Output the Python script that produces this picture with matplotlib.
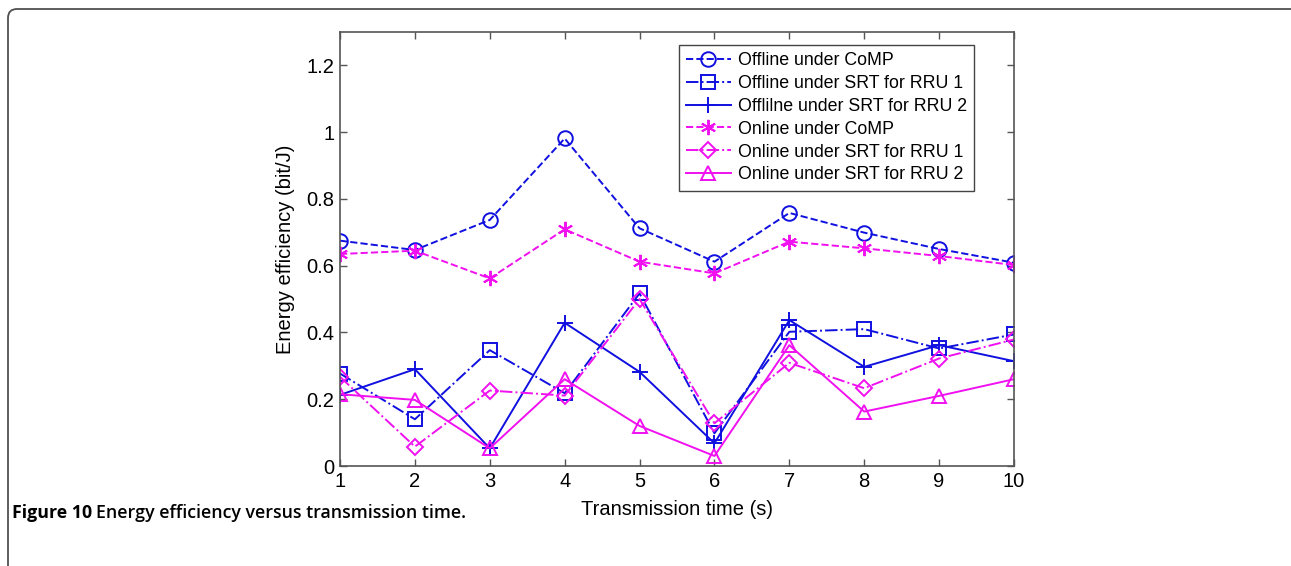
import matplotlib.pyplot as plt
from matplotlib.patches import FancyBboxPatch
from matplotlib.transforms import IdentityTransform

# transmission time slots (s)
t = [1, 2, 3, 4, 5, 6, 7, 8, 9, 10]

offline_comp = [0.675, 0.647, 0.737, 0.981, 0.712, 0.612, 0.758, 0.699, 0.650, 0.609]
offline_srt_rru1 = [0.277, 0.140, 0.347, 0.218, 0.517, 0.098, 0.402, 0.410, 0.352, 0.394]
offline_srt_rru2 = [0.213, 0.290, 0.053, 0.429, 0.282, 0.068, 0.437, 0.297, 0.362, 0.314]
online_comp = [0.635, 0.645, 0.562, 0.709, 0.612, 0.577, 0.672, 0.652, 0.629, 0.602]
online_srt_rru1 = [0.267, 0.058, 0.226, 0.211, 0.500, 0.128, 0.309, 0.233, 0.322, 0.379]
online_srt_rru2 = [0.215, 0.198, 0.053, 0.260, 0.120, 0.030, 0.362, 0.163, 0.210, 0.260]

labels = ["Offline under CoMP", "Offline under SRT for RRU 1",
          "Offlilne under SRT for RRU 2", "Online under CoMP",
          "Online under SRT for RRU 1", "Online under SRT for RRU 2"]

yticks = [0, 0.2, 0.4, 0.6, 0.8, 1, 1.2]
ytick_labels = ["0", "0.2", "0.4", "0.6", "0.8", "1", "1.2"]

plt.rcParams['font.family'] = ['Liberation Sans', 'DejaVu Sans']

BLUE = '#1010e0'
MAGENTA = '#f010f0'

fig = plt.figure(figsize=(12.91, 5.66), dpi=100)
ax = fig.add_axes([340 / 1291, 100 / 566, 674 / 1291, 434 / 566])

series = [
    (offline_comp, BLUE, '--', 'o'),
    (offline_srt_rru1, BLUE, '-.', 's'),
    (offline_srt_rru2, BLUE, '-', '+'),
    (online_comp, MAGENTA, '--', (6, 2, 0)),
    (online_srt_rru1, MAGENTA, '-.', 'D'),
    (online_srt_rru2, MAGENTA, '-', '^'),
]
sizes = {'o': 10.5, 's': 9.5, '+': 12, 'D': 8.5, '^': 10.5}

for (vals, col, ls, mk), lab in zip(series, labels):
    ms = sizes.get(mk, 11) if isinstance(mk, str) else 11
    ax.plot(t, vals, color=col, linestyle=ls, marker=mk, markersize=ms,
            markerfacecolor='none', markeredgecolor=col, markeredgewidth=1.4,
            linewidth=1.4, label=lab)

ax.set_xlim(1, 10)
ax.set_ylim(0, 1.3)
ax.set_xticks(t)
ax.set_yticks(yticks)
ax.set_yticklabels(ytick_labels)
ax.tick_params(direction='in', length=5, width=1, colors='#555555',
               labelcolor='black', labelsize=14.5, top=True, right=True, pad=4)
for s in ax.spines.values():
    s.set_color('#555555')
    s.set_linewidth(1.2)

ax.set_xlabel('Transmission time (s)', fontsize=14.5, labelpad=7)
ax.set_ylabel('Energy efficiency (bit/J)', fontsize=14.5, labelpad=8)

leg = ax.legend(loc='upper right', bbox_to_anchor=(974 / 1291, 1 - 45 / 566),
                bbox_transform=fig.transFigure, borderaxespad=0,
                fontsize=12.8, handlelength=2.5, labelspacing=0.33,
                fancybox=False, framealpha=1, edgecolor='#444444',
                borderpad=0.4, handletextpad=0.4)
leg.get_frame().set_linewidth(1.0)

# panel border around the figure
frame = FancyBboxPatch((8, -30), 1320, 566 - 9 + 30,
                       boxstyle='round,pad=0,rounding_size=9',
                       transform=IdentityTransform(), fill=False,
                       edgecolor='#505050', linewidth=1.3)
fig.patches.append(frame)

# caption: bold figure number followed by the description
cap_y = 1 - 513 / 566
head = fig.text(12 / 1291, cap_y, 'Figure 10', fontsize=12.8,
                fontweight='bold', family='Open Sans', va='center')
renderer = fig.canvas.get_renderer()
bb = head.get_window_extent(renderer)
fig.text((bb.x1 + 4) / 1291, cap_y, 'Energy efficiency versus transmission time.',
         fontsize=12.8, family='Open Sans', va='center', fontweight='semibold')

fig.savefig('out.png', dpi=100)
